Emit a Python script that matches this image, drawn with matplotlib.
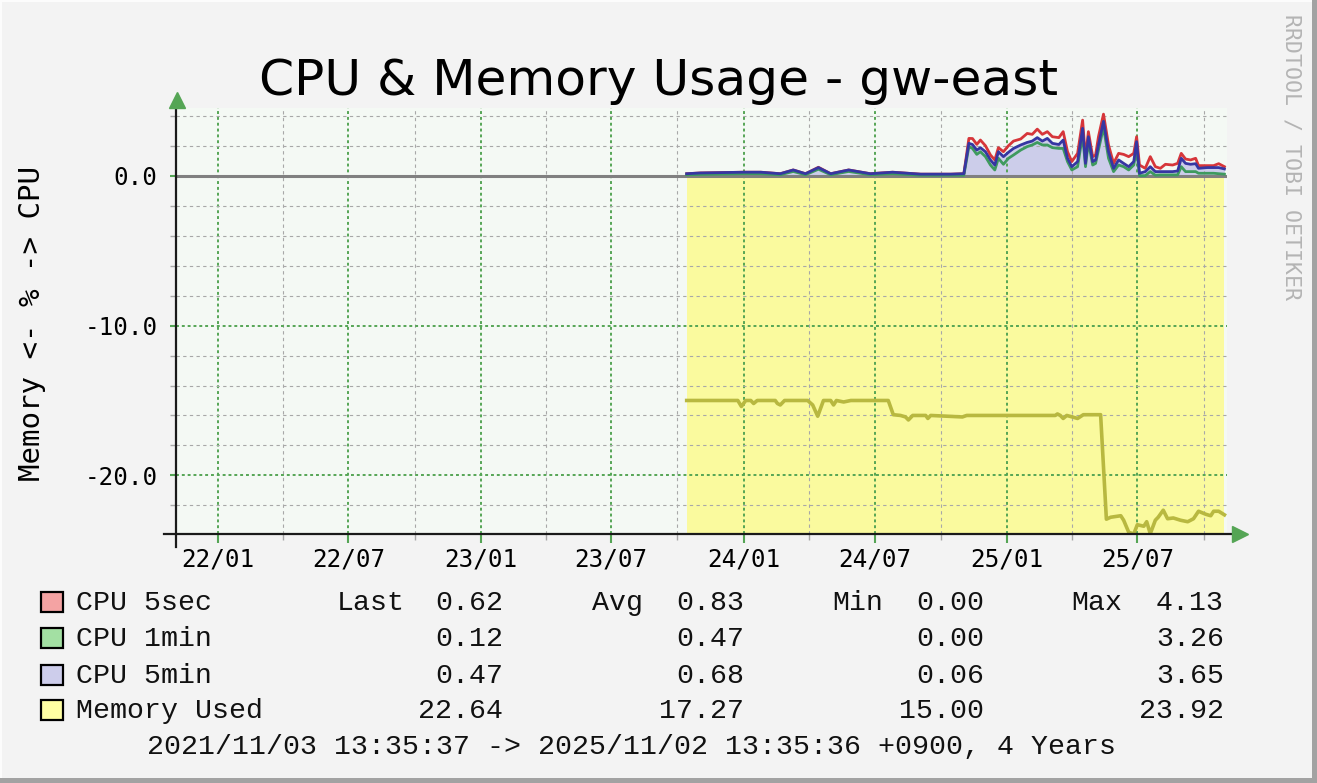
import numpy as np
import matplotlib
matplotlib.use('Agg')
import matplotlib.pyplot as plt
import matplotlib.dates as mdates
from matplotlib.patches import Rectangle

# ---------------- data ----------------
title = "CPU & Memory Usage - gw-east"
y_label = "Memory <- % -> CPU"
side_text = "RRDTOOL / TOBI OETIKER"
footer = "2021/11/03 13:35:37 -> 2025/11/02 13:35:36 +0900, 4 Years"
x_start = "2021-11-03T13:35:37"
x_end = "2025-11-02T13:35:36"

cpu_dates = ['2023-10-14', '2023-11-02', '2024-01-01', '2024-01-25', '2024-02-21', '2024-03-10',
             '2024-03-27', '2024-04-14', '2024-05-01', '2024-05-26', '2024-06-25', '2024-07-26',
             '2024-09-03', '2024-10-15', '2024-11-02', '2024-11-09', '2024-11-14', '2024-11-20',
             '2024-11-25', '2024-12-02', '2024-12-09', '2024-12-15', '2024-12-20', '2024-12-27',
             '2025-01-03', '2025-01-10', '2025-01-20', '2025-01-29', '2025-02-05', '2025-02-12',
             '2025-02-19', '2025-02-26', '2025-03-05', '2025-03-14', '2025-03-20', '2025-03-26',
             '2025-04-01', '2025-04-09', '2025-04-16', '2025-04-20', '2025-04-24', '2025-04-30',
             '2025-05-04', '2025-05-08', '2025-05-15', '2025-05-22', '2025-05-29', '2025-06-05',
             '2025-06-12', '2025-06-19', '2025-06-26', '2025-06-30', '2025-07-04', '2025-07-12',
             '2025-07-19', '2025-07-26', '2025-08-02', '2025-08-09', '2025-08-19', '2025-08-26',
             '2025-08-31', '2025-09-06', '2025-09-13', '2025-09-20', '2025-09-24', '2025-10-06',
             '2025-10-15', '2025-10-22', '2025-10-30']
cpu_5sec = [0.15, 0.20, 0.25, 0.25, 0.15, 0.40, 0.15, 0.58, 0.15, 0.40, 0.15, 0.25, 0.12, 0.12,
            0.15, 2.51, 2.50, 2.11, 2.40, 2.02, 1.40, 1.07, 1.89, 1.62,
            2.02, 2.33, 2.47, 2.84, 2.78, 3.13, 2.78, 2.96, 2.62, 2.56,
            2.96, 1.62, 0.96, 1.51, 3.73, 1.18, 2.96, 1.29, 1.40, 2.62,
            4.13, 2.07, 0.84, 1.51, 1.44, 1.29, 1.51, 2.62, 0.73, 0.51,
            1.29, 0.62, 0.51, 0.78, 0.73, 0.84, 1.51, 1.13, 1.07, 1.18,
            0.69, 0.69, 0.69, 0.82, 0.62]
cpu_1min = [0.08, 0.10, 0.15, 0.15, 0.08, 0.30, 0.08, 0.45, 0.08, 0.30, 0.08, 0.15, 0.05, 0.05,
            0.05, 1.96, 1.84, 1.44, 1.62, 1.29, 0.73, 0.40, 1.18, 0.78,
            1.18, 1.40, 1.73, 1.96, 2.07, 2.24, 2.07, 2.07, 1.89, 1.84,
            1.84, 0.96, 0.40, 0.62, 2.73, 0.62, 2.29, 0.73, 0.84, 1.73,
            3.26, 1.18, 0.29, 0.73, 0.62, 0.40, 0.73, 1.84, 0.02, 0.02,
            0.29, 0.05, 0.07, 0.07, 0.07, 0.07, 0.62, 0.29, 0.29, 0.29,
            0.18, 0.18, 0.18, 0.15, 0.12]
cpu_5min = [0.15, 0.20, 0.25, 0.25, 0.15, 0.40, 0.15, 0.56, 0.15, 0.40, 0.15, 0.25, 0.12, 0.12,
            0.15, 2.18, 2.10, 1.73, 1.89, 1.62, 1.07, 0.73, 1.62, 1.29,
            1.58, 1.84, 2.07, 2.24, 2.33, 2.56, 2.33, 2.51, 2.18, 2.10,
            2.40, 1.18, 0.62, 0.96, 3.18, 0.84, 2.62, 0.96, 1.07, 2.07,
            3.65, 1.62, 0.51, 1.07, 0.84, 0.62, 0.96, 2.29, 0.18, 0.29,
            0.62, 0.29, 0.29, 0.29, 0.29, 0.33, 1.18, 0.84, 0.78, 0.82,
            0.51, 0.56, 0.56, 0.56, 0.47]

mem_dates = ['2023-10-14', '2023-12-24', '2023-12-29', '2024-01-04', '2024-01-11', '2024-01-15',
             '2024-01-20', '2024-02-14', '2024-02-17', '2024-02-21', '2024-02-27', '2024-03-30',
             '2024-04-06', '2024-04-13', '2024-04-21', '2024-05-01', '2024-05-05', '2024-05-09',
             '2024-05-19', '2024-05-29', '2024-07-20', '2024-07-27', '2024-08-06', '2024-08-13',
             '2024-08-17', '2024-08-23', '2024-09-10', '2024-09-13', '2024-09-17', '2024-10-31',
             '2024-11-06', '2025-03-09', '2025-03-12', '2025-03-16', '2025-03-20', '2025-03-25',
             '2025-04-09', '2025-04-17', '2025-05-11', '2025-05-19', '2025-05-25', '2025-06-08',
             '2025-06-12', '2025-06-19', '2025-06-26', '2025-07-01', '2025-07-10', '2025-07-14',
             '2025-07-19', '2025-07-26', '2025-07-30', '2025-08-06', '2025-08-12', '2025-08-20',
             '2025-08-30', '2025-09-09', '2025-09-17', '2025-09-24', '2025-10-04', '2025-10-11',
             '2025-10-15', '2025-10-22', '2025-10-30']
mem_used = [15.0, 15.0, 15.4, 15.0, 15.0, 15.2, 15.0, 15.0, 15.2, 15.3, 15.0, 15.0,
            15.3, 16.05, 15.0, 15.0, 15.3, 15.0, 15.1, 15.0, 15.0, 15.95, 16.0, 16.1,
            16.3, 16.0, 16.0, 16.2, 16.0, 16.1, 16.0, 16.0, 15.9, 16.0, 16.2, 16.0,
            16.2, 15.95, 15.95, 22.93, 22.8, 22.7, 23.0, 23.8, 23.92, 23.3, 23.4, 23.1,
            23.9, 23.0, 22.8, 22.33, 22.9, 22.85, 23.0, 23.1, 22.9, 22.4, 22.6, 22.7,
            22.4, 22.4, 22.64]

legend_names = ["CPU 5sec", "CPU 1min", "CPU 5min", "Memory Used"]
stat_names = ["Last", "Avg", "Min", "Max"]
stat_last = [0.62, 0.12, 0.47, 22.64]
stat_avg = [0.83, 0.47, 0.68, 17.27]
stat_min = [0.00, 0.00, 0.06, 15.00]
stat_max = [4.13, 3.26, 3.65, 23.92]

x_major = ['2022-01-01', '2022-07-01', '2023-01-01', '2023-07-01',
           '2024-01-01', '2024-07-01', '2025-01-01', '2025-07-01']
x_minor = ['2022-04-01', '2022-10-01', '2023-04-01', '2023-10-01',
           '2024-04-01', '2024-10-01', '2025-04-01', '2025-10-01']
y_major = [-20, -10, 0]
y_minor = [-22, -18, -16, -14, -12, -8, -6, -4, -2, 2, 4]
y_top = 4.54

# ---------------- style ----------------
BG = '#F3F3F3'
PLOT_BG = '#F4F9F4'
GREEN = '#55A555'
GRID_GRAY = '#A8A8A8'
swatch_colors = ['#F4A3A3', '#A3E0A3', '#CDCDEB', '#FFFFA3']
line_red = '#D6363A'
line_green = '#3E9A5E'
line_blue = '#3636A2'
area_blue = '#CCCDEA'
mem_fill = '#FAFA9E'
mem_line = '#B8B840'

W, H = 1317, 783
fig = plt.figure(figsize=(W / 100, H / 100), dpi=100, facecolor=BG)


def fx(x):
    return x / W


def fy(y):
    return 1 - y / H


def d(s):
    return mdates.date2num(np.array(s, dtype='datetime64[s]'))


ax = fig.add_axes([fx(176), fy(534), (1227 - 176) / W, (534 - 108) / H])
ax.set_facecolor(PLOT_BG)
ax.set_xlim(d(x_start), d(x_end))
ax.set_ylim(-max(mem_used), y_top)

cd = d(cpu_dates)
md = d(mem_dates)
mem_neg = -np.array(mem_used)

# memory area (to bottom of graph) and cpu area
ax.fill_between([md[0], md[-1]], 0, -max(mem_used) - 5, color=mem_fill, lw=0, zorder=1)
ax.fill_between(cd, 0, cpu_5min, color=area_blue, lw=0, zorder=1)

# grid / ticks
ax.set_axisbelow('line')
ax.set_xticks(d(x_major))
ax.set_xticks(d(x_minor), minor=True)
ax.set_yticks(y_major)
ax.set_yticks(y_minor, minor=True)
ax.xaxis.set_major_formatter(mdates.DateFormatter('%y/%m'))
ax.set_yticklabels(['%.1f' % v for v in y_major])
ax.grid(which='major', color=GREEN, ls=(0, (1.5, 1.5)), lw=1.4)
ax.grid(which='minor', color=GRID_GRAY, ls=(0, (3, 3)), lw=0.8)

ax.axhline(0, color='#808080', lw=2.2, zorder=1.8)

ax.plot(md, mem_neg, color=mem_line, lw=2.6, zorder=2, solid_joinstyle='round')
ax.plot(cd, cpu_5sec, color=line_red, lw=2.0, zorder=2.1)
ax.plot(cd, cpu_1min, color=line_green, lw=2.0, zorder=2.2)
ax.plot(cd, cpu_5min, color=line_blue, lw=2.0, zorder=2.3)

for s in ax.spines.values():
    s.set_visible(False)

ax.tick_params(axis='x', which='major', length=6.5, width=1.5, color=GREEN, pad=3,
               labelsize=17.5)
ax.tick_params(axis='x', which='minor', length=4.3, width=1.0, color=GRID_GRAY)
ax.tick_params(axis='y', which='major', length=4.3, width=1.5, color=GREEN, pad=9,
               labelsize=17.5)
ax.tick_params(axis='y', which='minor', length=4.3, width=1.0, color=GRID_GRAY)
for lab in ax.get_xticklabels() + ax.get_yticklabels():
    lab.set_family('DejaVu Sans Mono')

# axis lines with arrows
wpx, hpx = 1227 - 176, 534 - 108
ax.plot([(164 - 176) / wpx, (1233 - 176) / wpx], [0, 0], transform=ax.transAxes,
        color='#1A1A1A', lw=1.6, clip_on=False, zorder=5)
ax.plot([0, 0], [(534 - 547) / hpx, (534 - 102) / hpx], transform=ax.transAxes,
        color='#1A1A1A', lw=1.6, clip_on=False, zorder=5)
ax.plot([(1240 - 176) / wpx], [0], marker='>', ms=11, color=GREEN, mec=GREEN,
        transform=ax.transAxes, clip_on=False, zorder=6)
ax.plot([(177 - 176) / wpx], [(534 - 100) / hpx], marker='^', ms=11, color=GREEN, mec=GREEN,
        transform=ax.transAxes, clip_on=False, zorder=6)

# texts
fig.text(0.5, fy(95), title, ha='center', va='baseline', fontsize=36.2,
         family='DejaVu Sans', color='black')
fig.text(fx(32), fy(324), y_label, rotation=90, ha='center', va='center',
         fontsize=21, family='DejaVu Sans Mono')
fig.text(fx(1292), fy(14), side_text, rotation=270, ha='center', va='top',
         fontsize=15.5, family='DejaVu Sans Mono', color='#B4B4B4')

# legend
LF = dict(family='Liberation Mono', fontsize=20.3, color='#111111')
baselines = [610, 646, 683, 718]
stat_cols = [stat_last, stat_avg, stat_min, stat_max]
stat_label_x = [337, 592, 832, 1071]
stat_val_x = [503, 744, 984, 1224]
for i, name in enumerate(legend_names):
    b = baselines[i]
    fig.patches.append(Rectangle((fx(41), fy(b + 2)), 22 / W, 20 / H, transform=fig.transFigure,
                                 facecolor=swatch_colors[i], edgecolor='black', lw=1.6))
    fig.text(fx(76), fy(b), name, va='baseline', ha='left', **LF)
    for j in range(4):
        if i == 0:
            fig.text(fx(stat_label_x[j]), fy(b), stat_names[j], va='baseline', ha='left', **LF)
        fig.text(fx(stat_val_x[j]), fy(b), '%.2f' % stat_cols[j][i], va='baseline', ha='right', **LF)
fig.text(fx(147), fy(754), footer, va='baseline', ha='left', **LF)

# border bevel
fig.patches.append(Rectangle((0, 1 - 2 / H), 1, 2 / H, transform=fig.transFigure,
                             facecolor='#FCFCFC', lw=0))
fig.patches.append(Rectangle((0, 0), 2 / W, 1, transform=fig.transFigure,
                             facecolor='#FCFCFC', lw=0))
fig.patches.append(Rectangle((0, 0), 1, 5 / H, transform=fig.transFigure,
                             facecolor='#A2A2A2', lw=0))
fig.patches.append(Rectangle((1 - 5 / W, 0), 5 / W, 1, transform=fig.transFigure,
                             facecolor='#A2A2A2', lw=0))

fig.savefig('out.png', dpi=100, facecolor=BG)
